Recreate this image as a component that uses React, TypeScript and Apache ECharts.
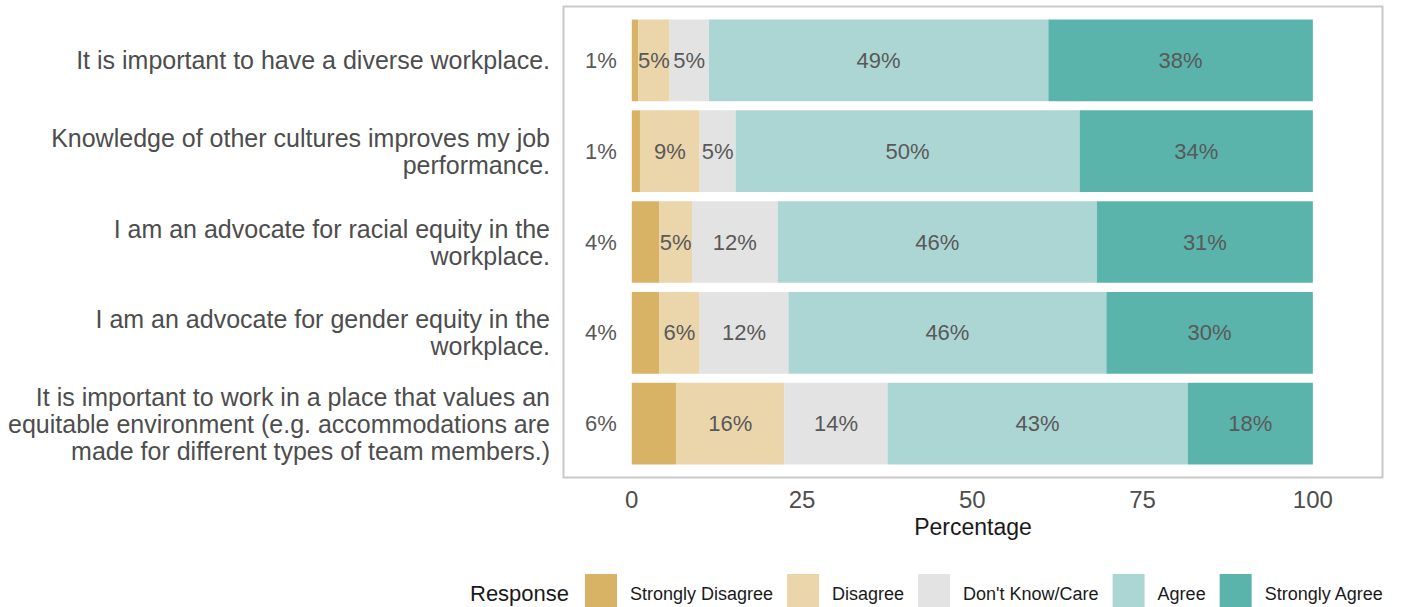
import React, { useEffect, useRef } from "react";
import * as echarts from "echarts";

const categories = [
  "It is important to have a diverse workplace.",
  "Knowledge of other cultures improves my job\nperformance.",
  "I am an advocate for racial equity in the\nworkplace.",
  "I am an advocate for gender equity in the\nworkplace.",
  "It is important to work in a place that values an\nequitable environment (e.g. accommodations are\nmade for different types of team members.)",
];

const responseNames = ["Strongly Disagree", "Disagree", "Don't Know/Care", "Agree", "Strongly Agree"];

// bar widths (percent of respondents)
const stronglyDisagree = [0.96, 1.2, 4.0, 4.0, 6.5];
const disagree = [4.59, 8.76, 4.85, 5.96, 15.91];
const dontKnow = [5.77, 5.28, 12.56, 13.04, 15.14];
const agree = [49.84, 50.52, 46.89, 46.68, 44.08];
const stronglyAgree = [38.84, 34.24, 31.7, 30.32, 18.37];

// printed percentage labels
const sdLabels = [1, 1, 4, 4, 6];
const dLabels = [5, 9, 5, 6, 16];
const dkLabels = [5, 5, 12, 12, 14];
const aLabels = [49, 50, 46, 46, 43];
const saLabels = [38, 34, 31, 30, 18];

const xTicks = [0, 25, 50, 75, 100];

const colors = ["#d8b365", "#ebd5ab", "#e3e3e3", "#acd6d3", "#5ab4ac"];

const FONT = "'Liberation Sans', Arial, Helvetica, sans-serif";

export default function App() {
  const ref = useRef<HTMLDivElement>(null);

  useEffect(() => {
    if (!ref.current) return;
    const chart = echarts.init(ref.current, undefined, { renderer: "svg" });
    const values = [stronglyDisagree, disagree, dontKnow, agree, stronglyAgree];
    const labels = [sdLabels, dLabels, dkLabels, aLabels, saLabels];

    const series = responseNames.map((name, i) => ({
      name,
      type: "bar",
      stack: "total",
      barCategoryGap: "10%",
      data: values[i],
      itemStyle: { color: colors[i] },
      label: {
        show: true,
        position: i === 0 ? "left" : "inside",
        distance: 15,
        formatter: (p: any) => labels[i][p.dataIndex] + "%",
        color: "#595959",
        fontSize: 22,
        fontFamily: FONT,
      },
      emphasis: { disabled: true },
    }));

    chart.setOption({
      animation: false,
      textStyle: { fontFamily: FONT },
      grid: { left: 563, right: 18, top: 15, height: 454, containLabel: false },
      xAxis: {
        type: "value",
        min: -10.1,
        max: 110.3,
        name: "Percentage",
        nameLocation: "middle",
        nameGap: 45,
        nameTextStyle: { fontSize: 23, color: "#1a1a1a", fontFamily: FONT },
        axisLine: { show: false },
        axisTick: { show: false },
        splitLine: { show: false },
        axisLabel: {
          customValues: xTicks,
          fontSize: 24,
          color: "#4d4d4d",
          margin: 18,
          fontFamily: FONT,
        },
      },
      yAxis: {
        type: "category",
        inverse: true,
        data: categories,
        axisLine: { show: false },
        axisTick: { show: false },
        splitLine: { show: false },
        axisLabel: {
          fontSize: 25,
          lineHeight: 27,
          color: "#4d4d4d",
          align: "right",
          margin: 13,
          fontFamily: FONT,
        },
      },
      legend: {
        data: responseNames,
        left: 580,
        top: 569,
        orient: "horizontal",
        icon: "rect",
        itemWidth: 32,
        itemHeight: 40,
        itemGap: 14,
        selectedMode: false,
        textStyle: { fontSize: 18, color: "#1a1a1a", fontFamily: FONT, padding: [0, 0, 0, 8] },
      },
      graphic: [
        {
          type: "rect",
          z: -1,
          silent: true,
          shape: { x: 563.5, y: 6.5, width: 819, height: 471 },
          style: { fill: "none", stroke: "#c9c9c9", lineWidth: 2 },
        },
        {
          type: "text",
          left: 470,
          top: 582,
          silent: true,
          style: { text: "Response", fontSize: 22, fill: "#1a1a1a", fontFamily: FONT },
        },
      ],
      series,
    });

    return () => chart.dispose();
  }, []);

  return (
    <div
      ref={ref}
      style={{ position: "fixed", left: 0, top: 0, width: 1401, height: 607, background: "#ffffff" }}
    />
  );
}
